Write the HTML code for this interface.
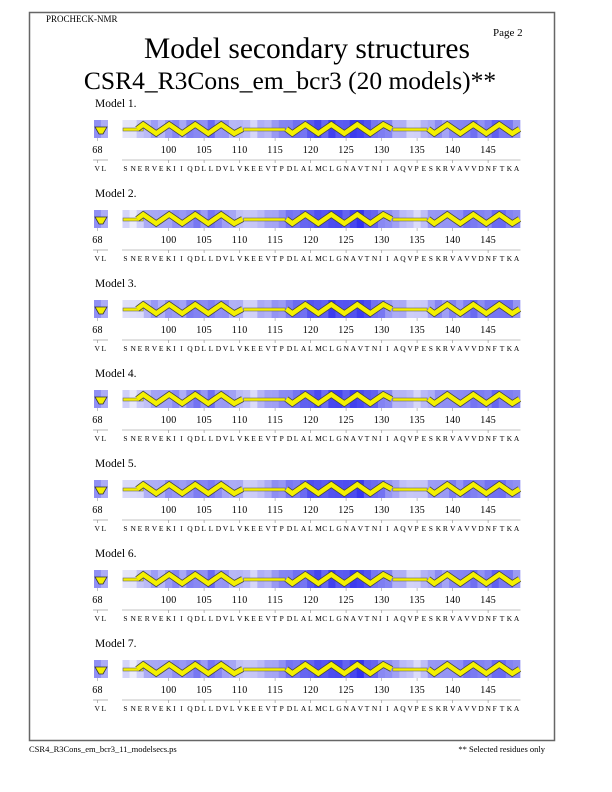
<!DOCTYPE html>
<html><head><meta charset="utf-8">
<style>
html,body{margin:0;padding:0;background:#fff;}
svg{display:block;font-family:"Liberation Serif",serif;}
</style></head>
<body>
<svg id="s" width="612" height="792" viewBox="0 0 612 792" xmlns="http://www.w3.org/2000/svg">
<rect x="29.5" y="12.5" width="525" height="728" fill="none" stroke="#666" stroke-width="1.5"/>
<text x="46" y="22" font-size="9">PROCHECK-NMR</text>
<text x="493" y="36" font-size="11">Page  2</text>
<text x="307" y="58" font-size="29.5" text-anchor="middle">Model secondary structures</text>
<text x="290" y="89" font-size="25.5" text-anchor="middle">CSR4_R3Cons_em_bcr3 (20 models)**</text>
<text x="29" y="752" font-size="8.5">CSR4_R3Cons_em_bcr3_11_modelsecs.ps</text>
<text x="545" y="752" font-size="8.5" text-anchor="end">** Selected residues only</text>
<g id="models"></g>
<g id="texts">
<text x="95" y="107" font-size="11.5">Model  1.</text>
<text x="95" y="197" font-size="11.5">Model  2.</text>
<text x="95" y="287" font-size="11.5">Model  3.</text>
<text x="95" y="377" font-size="11.5">Model  4.</text>
<text x="95" y="467" font-size="11.5">Model  5.</text>
<text x="95" y="557" font-size="11.5">Model  6.</text>
<text x="95" y="647" font-size="11.5">Model  7.</text>
<text class="seq" data-y="171" font-size="7.5">SNERVEKIIQDLLDVLVKEEVTPDLALMCLGNAVTNIIAQVPESKRVAVVDNFTKA</text>
<text class="seq" data-y="261" font-size="7.5">SNERVEKIIQDLLDVLVKEEVTPDLALMCLGNAVTNIIAQVPESKRVAVVDNFTKA</text>
<text class="seq" data-y="351" font-size="7.5">SNERVEKIIQDLLDVLVKEEVTPDLALMCLGNAVTNIIAQVPESKRVAVVDNFTKA</text>
<text class="seq" data-y="441" font-size="7.5">SNERVEKIIQDLLDVLVKEEVTPDLALMCLGNAVTNIIAQVPESKRVAVVDNFTKA</text>
<text class="seq" data-y="531" font-size="7.5">SNERVEKIIQDLLDVLVKEEVTPDLALMCLGNAVTNIIAQVPESKRVAVVDNFTKA</text>
<text class="seq" data-y="621" font-size="7.5">SNERVEKIIQDLLDVLVKEEVTPDLALMCLGNAVTNIIAQVPESKRVAVVDNFTKA</text>
<text class="seq" data-y="711" font-size="7.5">SNERVEKIIQDLLDVLVKEEVTPDLALMCLGNAVTNIIAQVPESKRVAVVDNFTKA</text>
<text class="vl" data-y="171" font-size="7.5">VL</text>
<text class="vl" data-y="261" font-size="7.5">VL</text>
<text class="vl" data-y="351" font-size="7.5">VL</text>
<text class="vl" data-y="441" font-size="7.5">VL</text>
<text class="vl" data-y="531" font-size="7.5">VL</text>
<text class="vl" data-y="621" font-size="7.5">VL</text>
<text class="vl" data-y="711" font-size="7.5">VL</text>
</g>
<g id="nums" font-size="10">
<text class="nm" data-y="153">68 100 105 110 115 120 125 130 135 140 145</text>
</g>
</svg>
<script>
const NS="http://www.w3.org/2000/svg";
const s=document.getElementById('models');
const step=7.1, x0=126-94*step;
function X(r){return x0+r*step;}
const inten=[.1,.05,.15,.3,.4,.35,.45,.5,.4,.55,.6,.5,.65,.5,.45,.35,.3,.2,.15,.3,.35,.45,.5,.6,.65,.7,.8,.85,.75,.9,.85,.8,.9,.95,.8,.7,.6,.5,.35,.3,.2,.15,.25,.4,.5,.45,.55,.5,.6,.65,.55,.6,.7,.65,.6,.5];
function col(t){t=Math.max(0,Math.min(1,t*0.85));
 const a=[236,236,250],b=[20,20,235];
 return 'rgb('+a.map((v,i)=>Math.round(v+(b[i]-v)*t)).join(',')+')';}
function el(n,attrs,p){const e=document.createElementNS(NS,n);for(const k in attrs)e.setAttribute(k,attrs[k]);(p||s).appendChild(e);return e;}
function helix(a,b,top,phase){
 const ya=top+4.5, yb=top+13.5; let pts=[]; let x=X(a)-3, xe=X(b)+3, up=phase;
 pts.push([x,top+9]);
 let xx=x+6;
 while(xx<xe){pts.push([xx,up?ya:yb]);up=!up;xx+=13;}
 pts.push([xe,top+9]);
 const d=pts.map(p=>p.join(',')).join(' ');
 el('polyline',{points:d,fill:'none',stroke:'#444','stroke-width':6.2,'stroke-linejoin':'miter'});
 el('polyline',{points:d,fill:'none',stroke:'#f4f000','stroke-width':4.6,'stroke-linejoin':'miter'});
}
function coil(a,b,top){
 el('rect',{x:X(a)-3,y:top+8,width:X(b)-X(a)+6,height:3,fill:'#f4f000',stroke:'#666','stroke-width':0.6});
}
for(let m=0;m<7;m++){
 const off=m*90, top=120+off;
 el('rect',{x:94,y:top,width:7,height:18,fill:col(.5)});
 el('rect',{x:101,y:top,width:7,height:18,fill:col(.35)});
 el('polygon',{points:`95,${top+7} 107,${top+7} 103,${top+14} 99,${top+14}`,fill:'#f4f000',stroke:'#333','stroke-width':0.8});
 for(let i=0;i<56;i++){
  const v=inten[i]+(((i*7+m*13)%5)-2)*0.03;
  el('rect',{x:X(94+i)-step/2,y:top,width:step+0.3,height:18,fill:col(v)});
 }
 coil(94,96,top);
 helix(96,110,top,true);
 coil(111,116,top);
 helix(117,131,top,false);
 coil(132,136,top);
 helix(137,149,top,false);
 const tk=[68,100,105,110,115,120,125,130,135,140,145];
 tk.forEach(r=>{const x=r==68?97.5:X(r);el('line',{x1:x,y1:top+18,x2:x,y2:top+21,stroke:'#999','stroke-width':0.6});});
 el('line',{x1:X(94)-4,y1:160+off,x2:X(149)+4,y2:160+off,stroke:'#888','stroke-width':0.6});
 el('line',{x1:93,y1:160+off,x2:108,y2:160+off,stroke:'#888','stroke-width':0.6});
 tk.forEach(r=>{const x=r==68?97.5:X(r);el('line',{x1:x,y1:160+off,x2:x,y2:163+off,stroke:'#888','stroke-width':0.6});});
}
const nm=document.querySelector('.nm');
const words=nm.textContent.split(' ');
const g=document.getElementById('nums');
for(let m=0;m<7;m++){
 const t=m==0?nm:nm.cloneNode(true);
 if(m>0)g.appendChild(t);
 t.textContent=words.join('');
 let xs=[];
 words.forEach(w=>{const r=parseInt(w);const cx=r==68?97.5:X(r);const n=w.length;for(let j=0;j<n;j++)xs.push((cx-n*2.6+j*5.2).toFixed(1));});
 t.setAttribute('x',xs.join(' '));t.setAttribute('y',153+m*90);
}
document.querySelectorAll('.seq').forEach(t=>{
 const n=t.textContent.length;let xs=[];for(let i=0;i<n;i++)xs.push((X(94+i)-2.6).toFixed(1));
 t.setAttribute('x',xs.join(' '));t.setAttribute('y',t.dataset.y);
});
document.querySelectorAll('.vl').forEach(t=>{
 t.setAttribute('x','94.5 101.5');t.setAttribute('y',t.dataset.y);
});
</script>
</body></html>
